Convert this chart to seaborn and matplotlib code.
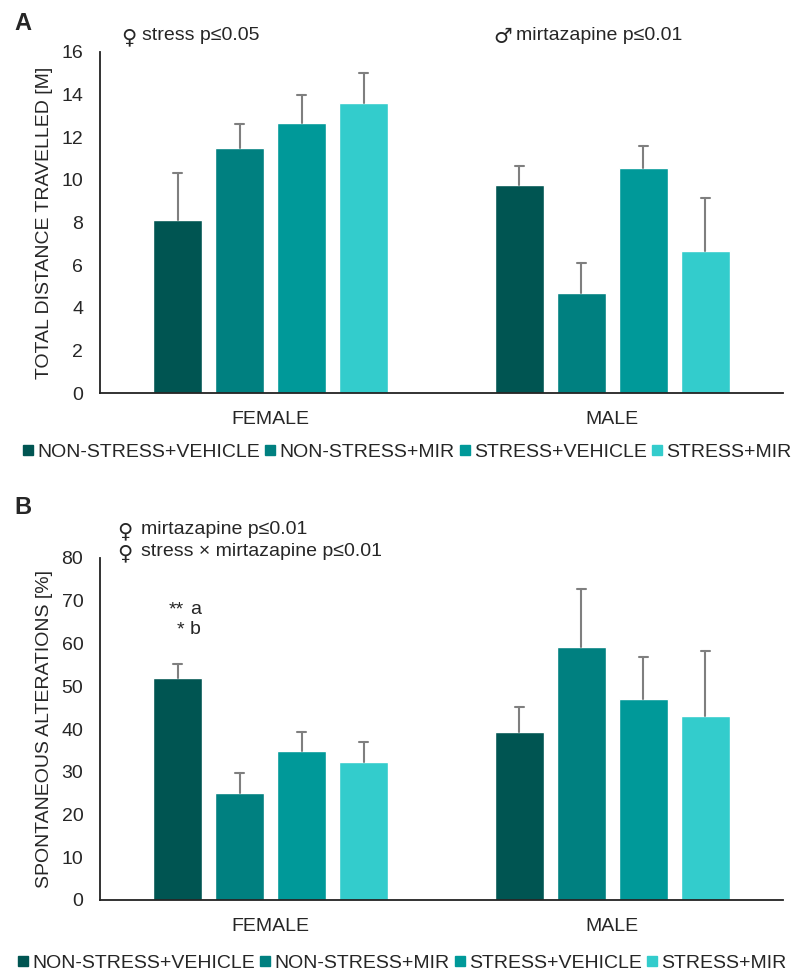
import matplotlib
matplotlib.use("Agg")
import matplotlib.pyplot as plt
from matplotlib.lines import Line2D
import pandas as pd
import seaborn as sns

sexes = ["FEMALE", "MALE"]
groups = ["NON-STRESS+VEHICLE", "NON-STRESS+MIR", "STRESS+VEHICLE", "STRESS+MIR"]
colors = ["#005552", "#008080", "#009999", "#33CCCC"]

# panel A: total distance travelled [m]
dist_female = [8.13, 11.5, 12.65, 13.63]
dist_male = [9.75, 4.67, 10.57, 6.68]
dist_err_female = [2.18, 1.1, 1.35, 1.4]
dist_err_male = [0.9, 1.43, 1.02, 2.49]

# panel B: spontaneous alterations [%]
alt_female = [52.0, 25.1, 34.8, 32.3]
alt_male = [39.2, 59.2, 47.0, 43.05]
alt_err_female = [3.15, 4.5, 4.4, 4.76]
alt_err_male = [5.86, 13.5, 9.95, 15.25]

sns.set_style("white")
plt.rcParams["font.family"] = ["Liberation Sans", "DejaVu Sans"]

W, H = 797, 974
fig = plt.figure(figsize=(W / 100, H / 100), dpi=100)


def fx(px):
    return px / W


def fy(py):
    return 1 - py / H


def panel(ax, female, male, err_f, err_m, ymax, step, ylabel):
    df = pd.DataFrame({
        "sex": [sexes[0]] * 4 + [sexes[1]] * 4,
        "group": groups * 2,
        "value": female + male,
    })
    sns.barplot(data=df, x="sex", y="value", hue="group", order=sexes,
                hue_order=groups, palette=colors, saturation=1, width=0.726,
                gap=0.21, errorbar=None, legend=False, ax=ax)
    # one-sided error bars (upper only)
    for cont, ef, em in zip(ax.containers, err_f, err_m):
        for bar, e in zip(cont, [ef, em]):
            x = bar.get_x() + bar.get_width() / 2
            h = bar.get_height()
            d = bar.get_width() * 4.5 / 49
            ax.plot([x, x], [h, h + e], color="#7f7f7f", lw=1.5, zorder=1)
            ax.plot([x - d, x + d], [h + e, h + e], color="#7f7f7f", lw=1.5, zorder=1)
    ax.set_ylim(0, ymax)
    ax.set_yticks(range(0, ymax + 1, step))
    ax.set_xlim(-0.5, 1.5)
    ax.set_xlabel("")
    ax.set_ylabel(ylabel, fontsize=14, labelpad=6)
    ax.tick_params(axis="both", length=0, labelsize=14)
    ax.tick_params(axis="y", pad=12)
    ax.tick_params(axis="x", pad=13)
    sns.despine(ax=ax)
    for s in ["left", "bottom"]:
        ax.spines[s].set_color("#222222")
        ax.spines[s].set_linewidth(1.3)


axA = fig.add_axes([fx(100), fy(393), fx(683), 341 / H])
panel(axA, dist_female, dist_male, dist_err_female, dist_err_male, 16, 2,
      "TOTAL DISTANCE TRAVELLED [M]")

axB = fig.add_axes([fx(100), fy(900), fx(683), 342 / H])
panel(axB, alt_female, alt_male, alt_err_female, alt_err_male, 80, 10,
      "SPONTANEOUS ALTERATIONS [%]")

handles = [Line2D([], [], marker="s", ls="none", color=c, markersize=7.5) for c in colors]
for lx, ly in [(407, 452), (402, 963)]:
    fig.legend(handles, groups, loc="center", bbox_to_anchor=(fx(lx), fy(ly)),
               ncol=4, frameon=False, fontsize=14, handlelength=0.55,
               handletextpad=0.2, columnspacing=0.25, borderpad=0)

fig.text(fx(14), fy(23), "A", fontsize=17, fontweight="bold", va="center")
fig.text(fx(14), fy(508), "B", fontsize=17, fontweight="bold", va="center")

sym = dict(family="DejaVu Sans", fontsize=15, va="center")
txt = dict(fontsize=14, va="center")
fig.text(fx(121), fy(37), "♀", **sym)
fig.text(fx(142), fy(36), "stress p≤0.05", **txt)
fig.text(fx(493), fy(37), "♂", **sym)
fig.text(fx(516), fy(36), "mirtazapine p≤0.01", **txt)
fig.text(fx(117), fy(531), "♀", **sym)
fig.text(fx(141), fy(530), "mirtazapine p≤0.01", **txt)
fig.text(fx(117), fy(553), "♀", **sym)
fig.text(fx(141), fy(552), "stress × mirtazapine p≤0.01", **txt)

fig.text(fx(184), fy(614), "**", fontsize=14, ha="right", va="baseline")
fig.text(fx(190), fy(614), "a", fontsize=14, ha="left", va="baseline")
fig.text(fx(184), fy(634), "*", fontsize=14, ha="right", va="baseline")
fig.text(fx(190), fy(634), "b", fontsize=14, ha="left", va="baseline")

fig.savefig("out.png", dpi=100)
